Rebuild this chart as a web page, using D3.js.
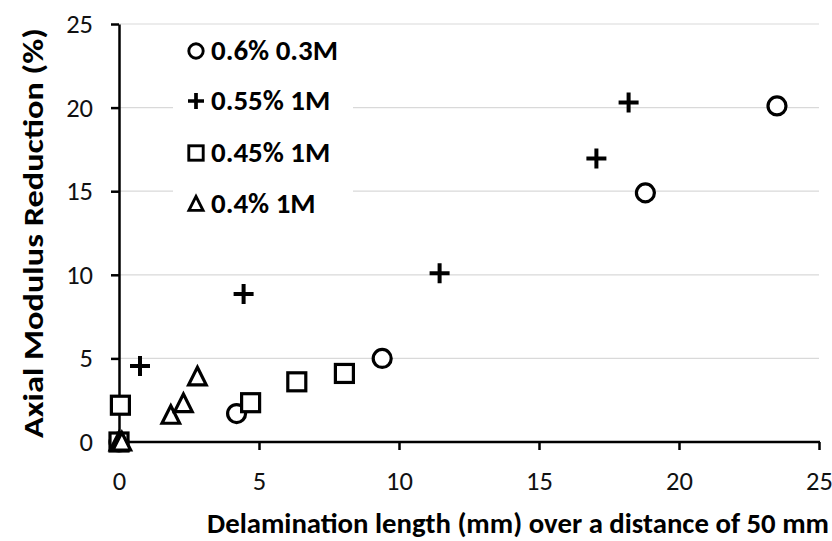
<!DOCTYPE html>
<html><head><meta charset="utf-8">
<script src="https://cdn.jsdelivr.net/npm/d3@7"></script>
<style>body{margin:0;background:#fff}svg{display:block}</style>
</head><body><svg id="c" width="832" height="541"></svg>
<script>
const xTicks = [0, 5, 10, 15, 20, 25];
const yTicks = [0, 5, 10, 15, 20, 25];
const seriesNames = ["0.6% 0.3M", "0.55% 1M", "0.45% 1M", "0.4% 1M"];
const seriesShapes = ["circle", "plus", "square", "triangle"];
const circleX = [0, 4.2, 9.4, 18.8, 23.5];
const circleY = [0, 1.7, 5.0, 14.9, 20.1];
const plusX = [0, 0.75, 4.45, 11.45, 17.05, 18.2];
const plusY = [0, 4.55, 8.85, 10.1, 16.95, 20.3];
const squareX = [0, 0.05, 4.7, 6.35, 8.05];
const squareY = [0, 2.2, 2.35, 3.6, 4.1];
const triangleX = [0, 0.1, 1.85, 2.3, 2.8];
const triangleY = [0, 0, 1.6, 2.3, 3.9];
const xTitle = "Delamination length (mm) over  a distance of 50 mm";
const yTitle = "Axial Modulus Reduction (%)";

const svg = d3.select("#c");
const m = {l:119, r:13, t:24, b:99};
const W = 832, H = 541;
const x = d3.scaleLinear().domain([0,25]).range([m.l, W-m.r]);
const y = d3.scaleLinear().domain([0,25]).range([H-m.b, m.t]);
const font = "Carlito, Lato, 'Open Sans', sans-serif";

function fitWidth(sel, target) {
  sel.attr("textLength", target).attr("lengthAdjust", "spacingAndGlyphs");
}

// gridlines
svg.append("g").selectAll("line").data(yTicks.filter(d=>d>0)).join("line")
  .attr("x1", x(0)).attr("x2", x(25)).attr("y1", d=>y(d)).attr("y2", d=>y(d))
  .attr("stroke", "#d9d9d9").attr("stroke-width", 1.2);

// legend background
svg.append("rect").attr("x",173).attr("y",28).attr("width",180).attr("height",197).attr("fill","#fff");

const xAxis = svg.append("g").attr("transform",`translate(0,${y(0)})`)
  .call(d3.axisBottom(x).tickValues(xTicks).tickSize(8).tickSizeOuter(0).tickPadding(21));
const yAxis = svg.append("g").attr("transform",`translate(${x(0)},0)`)
  .call(d3.axisLeft(y).tickValues(yTicks).tickSize(8).tickSizeOuter(0).tickPadding(18));
[xAxis, yAxis].forEach(g=>{
  g.select(".domain").attr("stroke","#000").attr("stroke-width",2.5);
  g.selectAll(".tick line").attr("stroke","#000").attr("stroke-width",2.5);
  g.selectAll(".tick text").attr("font-family",font).attr("font-size",26.5).attr("fill","#111");
});
xAxis.select(".domain").attr("d", `M${x(0)},0H${x(25)+1}`);

const xt = svg.append("text").attr("x", 518).attr("y", 533).attr("text-anchor","middle")
  .attr("font-family",font).attr("font-weight","bold").attr("font-size",28.4).text(xTitle);
fitWidth(xt, 622);
const yt = svg.append("text").attr("transform",`translate(43,233) rotate(-90)`)
  .attr("text-anchor","middle").attr("font-family",font).attr("font-weight","bold")
  .attr("font-size",28).text(yTitle);
fitWidth(yt, 410);

function drawShape(g, shape, cx, cy, s, sw) {
  if (shape==="circle") g.append("circle").attr("cx",cx).attr("cy",cy).attr("r",9*s)
    .attr("fill","#fff").attr("stroke","#000").attr("stroke-width",sw);
  else if (shape==="square") g.append("rect").attr("x",cx-9*s).attr("y",cy-9*s)
    .attr("width",18*s).attr("height",18*s).attr("fill","#fff").attr("stroke","#000").attr("stroke-width",sw);
  else if (shape==="triangle") g.append("path")
    .attr("d",`M${cx},${cy-9.5*s}L${cx+8.8*s},${cy+8*s}L${cx-8.8*s},${cy+8*s}Z`)
    .attr("fill","#fff").attr("stroke","#000").attr("stroke-width",sw).attr("stroke-linejoin","miter");
  else if (shape==="plus") g.append("path")
    .attr("d",`M${cx-10*s},${cy}H${cx+10*s}M${cx},${cy-10*s}V${cy+10*s}`)
    .attr("stroke","#000").attr("stroke-width",sw+0.8);
}

const series = [
  [circleX, circleY], [plusX, plusY], [squareX, squareY], [triangleX, triangleY]
];
const pts = svg.append("g");
series.forEach((s,i)=>{
  s[0].forEach((xv,j)=>drawShape(pts, seriesShapes[i], x(xv), y(s[1][j]), 1, 3.2));
});
// overlapping markers at origin form a dark blob
pts.append("rect").attr("x",x(0)-8).attr("y",y(0)-10).attr("width",17).attr("height",18).attr("fill","#000").lower();

const leg = svg.append("g");
const legY = [51, 101, 153, 204];
let k = null;
seriesNames.forEach((n,i)=>{
  drawShape(leg, seriesShapes[i], 196, legY[i], 0.8, 2.9);
  const t = leg.append("text").attr("x",211).attr("y",legY[i]).attr("dy","0.32em")
    .attr("font-family",font).attr("font-weight","bold").attr("font-size",28).text(n);
  const L = t.node().getComputedTextLength();
  if (k === null) k = 127 / L;
  t.attr("textLength", L*k).attr("lengthAdjust","spacingAndGlyphs");
});
</script></body></html>
